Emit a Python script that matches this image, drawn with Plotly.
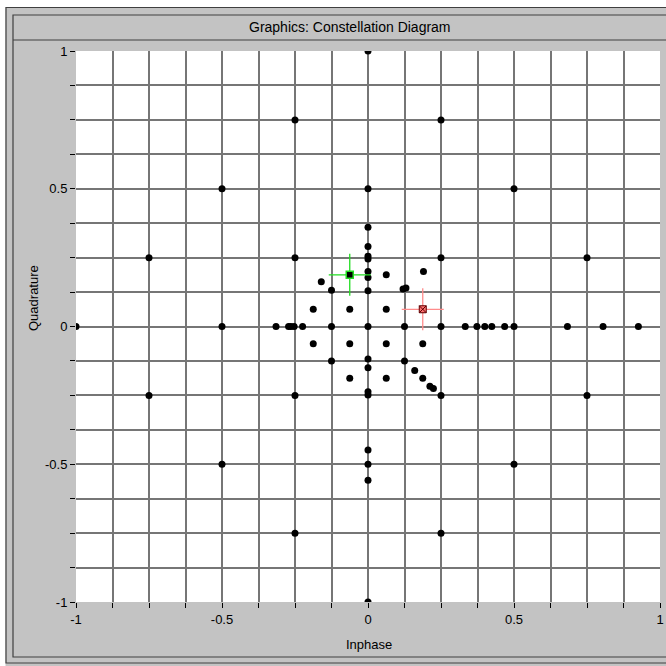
import plotly.graph_objects as go

# ---- data: constellation points (Inphase, Quadrature) ----
inphase = [
    0, -0.25, 0.25, -0.5, 0, 0.5, -0.75, -0.25, 0.25, 0.75,
    -1, -0.5, -0.315, -0.272, -0.264, -0.253, -0.224, -0.125, 0, 0.125, 0.25,
    0.333, 0.373, 0.4, 0.424, 0.468, 0.5, 0.683, 0.805, 0.926,
    0, 0, 0, 0, 0, 0, -0.0625, 0.0625, 0.19, -0.16, -0.125, 0, 0.12, 0.13,
    -0.1875, -0.0625, 0.0625, 0.1875,
    -0.1875, -0.0625, 0.0625, 0.1875,
    -0.125, 0, 0, 0.125, 0.16, 0.1875, -0.0625, 0.0625, 0.212, 0.224, 0.25, -0.25, 0, 0,
    0, 0, 0, -0.25, 0.25, 0,
    -0.75, 0.75, -0.5, 0.5,
]
quadrature = [
    1, 0.75, 0.75, 0.5, 0.5, 0.5, 0.25, 0.25, 0.25, 0.25,
    0, 0, 0, 0, 0, 0, 0, 0, 0, 0, 0,
    0, 0, 0, 0, 0, 0, 0, 0, 0,
    0.36, 0.29, 0.255, 0.245, 0.2, 0.178, 0.1875, 0.1875, 0.2, 0.162, 0.132, 0.13, 0.136, 0.14,
    0.0625, 0.0625, 0.0625, 0.0625,
    -0.0625, -0.0625, -0.0625, -0.0625,
    -0.125, -0.118, -0.15, -0.125, -0.16, -0.1875, -0.1875, -0.1875, -0.217, -0.225, -0.25, -0.25, -0.237, -0.249,
    -0.448, -0.5, -0.558, -0.75, -0.75, -1,
    -0.25, -0.25, -0.5, -0.5,
]

# cursors
cursor1 = (-0.0625, 0.1875)   # green
cursor2 = (0.1875, 0.0625)    # red

grid_vals = [i / 8 - 1 for i in range(17)]
label_vals = {-1: "-1", -0.5: "-0.5", 0: "0", 0.5: "0.5", 1: "1"}
tick_text = [label_vals.get(v, "") for v in grid_vals]

FONT = "Liberation Sans, Arial, sans-serif"
GRID = "#767676"
PANEL = "#c3c3c3"

fig = go.Figure()
fig.add_trace(go.Scatter(
    x=inphase, y=quadrature, mode="markers",
    marker=dict(color="black", size=7, line=dict(width=0)),
    hoverinfo="x+y", showlegend=False,
))
# green cursor
fig.add_trace(go.Scatter(
    x=[cursor1[0]], y=[cursor1[1]], mode="markers",
    marker=dict(symbol="cross-thin", size=30, line=dict(color="#22dd22", width=1.3)),
    showlegend=False, hoverinfo="skip",
))
fig.add_trace(go.Scatter(
    x=[cursor1[0]], y=[cursor1[1]], mode="markers",
    marker=dict(symbol="square", size=7, color="black", line=dict(color="#22dd22", width=1.5)),
    showlegend=False, hoverinfo="skip",
))
# red cursor
fig.add_trace(go.Scatter(
    x=[cursor2[0]], y=[cursor2[1]], mode="markers",
    marker=dict(symbol="cross-thin", size=30, line=dict(color="#ff8c8c", width=1.3)),
    showlegend=False, hoverinfo="skip",
))
fig.add_trace(go.Scatter(
    x=[cursor2[0]], y=[cursor2[1]], mode="markers",
    marker=dict(symbol="square-x", size=7, color="#ff7070", line=dict(color="#600000", width=1)),
    showlegend=False, hoverinfo="skip",
))

L, R, T, B = 76, 6, 51, 64
W = H = 666
PW, PH = W - L - R, H - T - B


def px(x):
    return (x - L) / PW


def py(y):
    return (H - B - y) / PH


shapes = [
    # white outside strips
    dict(type="rect", xref="paper", yref="paper", x0=px(0), x1=px(W), y0=py(0), y1=py(7),
         fillcolor="white", line=dict(width=0), layer="above"),
    dict(type="rect", xref="paper", yref="paper", x0=px(0), x1=px(5.5), y0=py(0), y1=py(H),
         fillcolor="white", line=dict(width=0), layer="above"),
    # outer border
    dict(type="rect", xref="paper", yref="paper", x0=px(6), x1=px(W + 2), y0=py(7.5), y1=py(663),
         line=dict(color="#404040", width=1.2), layer="above"),
    # inner border
    dict(type="rect", xref="paper", yref="paper", x0=px(13), x1=px(W + 2), y0=py(15), y1=py(657),
         line=dict(color="#404040", width=1.2), layer="above"),
    # title bar separator
    dict(type="line", xref="paper", yref="paper", x0=px(13), x1=px(W + 2), y0=py(40), y1=py(40),
         line=dict(color="#404040", width=1.2), layer="above"),
]

fig.update_layout(
    width=W, height=H,
    margin=dict(l=L, r=R, t=T, b=B, pad=0, autoexpand=False),
    paper_bgcolor=PANEL, plot_bgcolor="white",
    font=dict(family=FONT, size=13, color="black"),
    shapes=shapes,
    annotations=[
        dict(text="Graphics: Constellation Diagram", xref="paper", yref="paper",
             x=px(350), y=py(27.5), showarrow=False, xanchor="center", yanchor="middle",
             font=dict(family=FONT, size=14, color="black")),
        dict(text="Inphase", xref="paper", yref="paper",
             x=px(369), y=py(644), showarrow=False, xanchor="center", yanchor="middle",
             font=dict(family=FONT, size=13, color="black")),
        dict(text="Quadrature", xref="paper", yref="paper", textangle=-90,
             x=px(33), y=py(298), showarrow=False, xanchor="center", yanchor="middle",
             font=dict(family=FONT, size=13, color="black")),
    ],
    xaxis=dict(range=[-1, 1], tickmode="array", tickvals=grid_vals, ticktext=tick_text,
               showgrid=True, gridcolor=GRID, gridwidth=1.5, zeroline=False,
               ticks="outside", ticklen=5, tickcolor="black", tickwidth=1,
               showline=False, fixedrange=True, automargin=False),
    yaxis=dict(range=[-1, 1], tickmode="array", tickvals=grid_vals, ticktext=tick_text,
               showgrid=True, gridcolor=GRID, gridwidth=1.5, zeroline=False,
               ticks="outside", ticklen=5, tickcolor="black", tickwidth=1,
               showline=False, fixedrange=True, automargin=False),
)

fig.write_html("out.html", config={"displayModeBar": False},
               post_script="document.body.style.margin='0';document.body.style.overflow='hidden';")
